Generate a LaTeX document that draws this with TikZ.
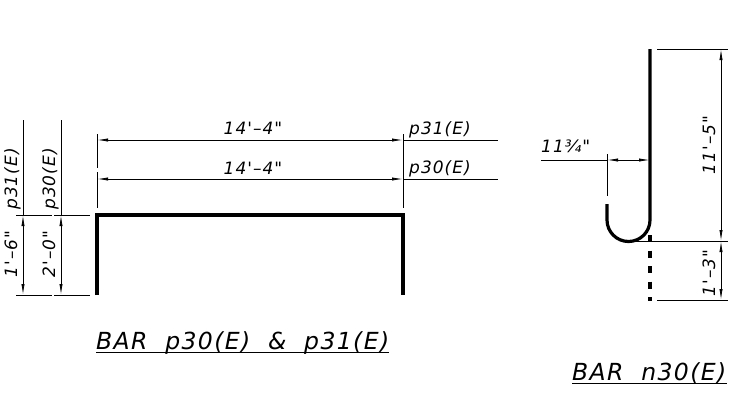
\documentclass[tikz,border=0pt]{standalone}
\usepackage{fontspec}
\setmainfont{DejaVu Sans}
\usetikzlibrary{arrows.meta}
\newfontfamily\dimfont[LetterSpace=6]{DejaVu Sans}
\tikzset{
	barline/.style={line width=3.2pt},
	dimline/.style={line width=.8pt},
	dimarrow/.style={dimline, {Latex[length=11pt,width=3.2pt]}-{Latex[length=11pt,width=3.2pt]}},
	dimtext/.style={inner sep=0pt, anchor=base, font=\dimfont\itshape\fontsize{17}{17}\selectfont},
	titletext/.style={inner sep=0pt, anchor=base west, font=\dimfont\itshape\fontsize{23.5}{23.5}\selectfont}
}
\begin{document}
\begin{tikzpicture}[x=1pt, y=-1pt]
	\useasboundingbox (0,0) rectangle (735,392);
	% bar p30 and p31
	\draw[barline, line join=miter] (97,295) -- (97,215) -- (403,215) -- (403,295);
	\coordinate (aL) at (97,140);
	\coordinate (aR) at (403,140);
	\coordinate (aE) at (498,140);
	\coordinate (bL) at (97,179);
	\coordinate (bR) at (403,179);
	\coordinate (bE) at (498,179);
	\draw[dimline] (97,134) -- (97,168) (97,172) -- (97,208);
	\draw[dimline] (403,134) -- (403,208);
	\draw[dimarrow] (aL) -- (aR);
	\draw[dimarrow] (bL) -- (bR);
	\draw[dimline] (aR) -- (aE);
	\draw[dimline] (bR) -- (bE);
	\node[dimtext] (lenA) at (253,134) {14'–4"};
	\node[dimtext] (lenB) at (253,174) {14'–4"};
	\node[dimtext, anchor=base west] (markA) at (409,134) {p31(E)};
	\node[dimtext, anchor=base west] (markB) at (409,173) {p30(E)};
	% left dimensions
	\coordinate (cT) at (23,215);
	\coordinate (cB) at (23,295);
	\coordinate (dT) at (61,215);
	\coordinate (dB) at (61,295);
	\draw[dimline] (16,215) -- (52,215) (54,215) -- (90,215);
	\draw[dimline] (16,295) -- (52,295) (54,295) -- (90,295);
	\draw[dimline] (23,120) -- (cT);
	\draw[dimline] (61,120) -- (dT);
	\draw[dimarrow] (cT) -- (cB);
	\draw[dimarrow] (dT) -- (dB);
	\node[dimtext, rotate=90] (markC) at (17,179) {p31(E)};
	\node[dimtext, rotate=90] (markD) at (55,179) {p30(E)};
	\node[dimtext, rotate=90] (lenC) at (17,254) {1'–6"};
	\node[dimtext, rotate=90] (lenD) at (55,254) {2'–0"};
	% bar n30
	\draw[barline] (650,49) -- (650,220) arc[start angle=0, end angle=180, radius=21.5] -- (607,204);
	\draw[barline, dash pattern=on 7pt off 8.5pt] (650,235) -- (650,301);
	\coordinate (eL) at (607,160);
	\coordinate (eR) at (650,160);
	\coordinate (eE) at (541,160);
	\draw[dimline] (607,154) -- (607,196);
	\draw[dimline] (eE) -- (eL);
	\draw[dimline, {Latex[length=11pt,width=3.2pt]}-{Latex[length=11pt,width=3.2pt]}] (eL) -- (eR);
	\node[dimtext, anchor=base west] (lenE) at (541,152) {11¾"};
	\coordinate (fT) at (721,49);
	\coordinate (fM) at (721,241);
	\coordinate (fB) at (721,300);
	\draw[dimline] (657,49) -- (728,49);
	\draw[dimline] (628,241) -- (728,241);
	\draw[dimline] (657,300) -- (728,300);
	\draw[dimarrow] (fT) -- (fM);
	\draw[dimarrow] (fM) -- (fB);
	\node[dimtext, rotate=90] (lenF) at (715,145) {11'–5"};
	\node[dimtext, rotate=90] (lenG) at (715,273) {1'–3"};
	% titles
	\node[titletext] (titleA) at (96,349) {BAR\ \ p30(E)\ \ \&\ \ p31(E)};
	\node[titletext] (titleB) at (572,380) {BAR\ \ n30(E)};
	\draw[line width=1.6pt] ([yshift=-3.5pt]titleA.base west) -- ([yshift=-3.5pt]titleA.base east);
	\draw[line width=1.6pt] ([yshift=-3.5pt]titleB.base west) -- ([yshift=-3.5pt]titleB.base east);
\end{tikzpicture}
\end{document}
